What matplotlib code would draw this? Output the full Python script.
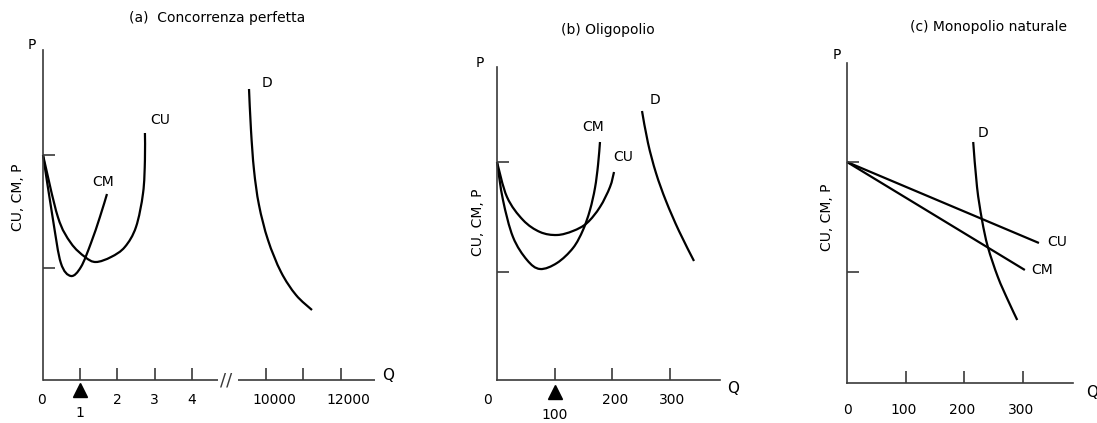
import numpy as np
import matplotlib
matplotlib.use("Agg")
import matplotlib.pyplot as plt
from matplotlib.path import Path
from matplotlib.patches import PathPatch
from matplotlib.transforms import ScaledTranslation

W, H, DPI = 1097, 423, 100

# ---- (a) Concorrenza perfetta ----
a_cm_q = [0, 0.27, 0.48, 0.75, 1.02, 1.29, 1.53, 1.72]
a_cm_p = [22.5, 16.0, 11.7, 10.4, 11.3, 13.7, 16.3, 18.6]
a_cu_q = [0, 0.40, 0.75, 1.13, 1.42, 1.83, 2.20, 2.50, 2.69, 2.74, 2.74]
a_cu_p = [22.5, 16.3, 13.7, 12.3, 11.8, 12.3, 13.3, 15.3, 18.7, 22.0, 24.7]
a_d_q = [9538, 9591, 9672, 9806, 10048, 10398, 10801, 11231]
a_d_p = [29.1, 25.0, 21.0, 17.5, 14.0, 10.8, 8.5, 7.0]
a_xticks = [1, 2, 3, 4, 10000, 11000, 12000]
a_xlabels = ["0", "2", "3", "4", "10000", "12000"]
a_xlabel_pos = [0, 2, 3, 4, 10000, 12000]
a_mark_q, a_mark_label = 1, "1"
a_yticks = [11.2, 22.5]

# ---- (b) Oligopolio ----
b_cm_q = [0, 10.4, 27.8, 52.2, 74.8, 104.3, 132.2, 149.6, 161.7, 170.4, 175.7, 179.1]
b_cm_p = [21.8, 18.0, 14.3, 12.0, 11.1, 11.7, 13.2, 15.0, 17.0, 19.2, 21.5, 23.8]
b_cu_q = [0, 17.4, 45.2, 74.8, 104.3, 132, 156.5, 179.1, 196.5, 203.5]
b_cu_p = [21.8, 18.3, 16.0, 14.8, 14.5, 14.9, 15.7, 17.3, 19.3, 20.8]
b_d_q = [252.2, 262.6, 276.5, 293.9, 316.5, 342.6]
b_d_p = [26.9, 23.7, 20.7, 17.9, 14.9, 11.9]
b_xticks = [100, 200, 300]
b_xlabels = ["0", "200", "300"]
b_xlabel_pos = [0, 200, 300]
b_mark_q, b_mark_label = 100, "100"
b_yticks = [10.8, 21.8]

# ---- (c) Monopolio naturale ----
c_cu_q = [0, 327]
c_cu_p = [22.1, 14.0]
c_cm_q = [0, 303]
c_cm_p = [22.1, 11.3]
c_d_q = [215, 221.5, 230, 240, 257, 274, 290]
c_d_p = [24.1, 19.6, 16.3, 13.6, 10.6, 8.3, 6.3]
c_xticks = [100, 200, 300]
c_xlabels = ["0", "100", "200", "300"]
c_xlabel_pos = [0, 100, 200, 300]
c_yticks = [11.1, 22.1]

plt.rcParams['font.family'] = ['DejaVu Sans']
FS = 10
AX_COLOR = '#3a3a3a'
AX_LW = 1.2
CURVE_LW = 1.6

fig = plt.figure(figsize=(W / DPI, H / DPI), dpi=DPI)


def px_axes(left, top, right, bottom):
    return fig.add_axes([left / W, 1 - bottom / H, (right - left) / W, (bottom - top) / H])


def fig_text(x, y, s, **kw):
    kw.setdefault('ha', 'center')
    kw.setdefault('va', 'center')
    kw.setdefault('fontsize', FS)
    fig.text(x / W, 1 - y / H, s, **kw)


def smooth_path(xs, ys):
    pts = np.column_stack([xs, ys]).astype(float)
    n = len(pts)
    if n < 3:
        return Path(pts)
    verts = [pts[0]]
    codes = [Path.MOVETO]
    for i in range(n - 1):
        p0 = pts[i - 1] if i > 0 else pts[i]
        p1, p2 = pts[i], pts[i + 1]
        p3 = pts[i + 2] if i + 2 < n else pts[i + 1]
        verts += [p1 + (p2 - p0) / 6, p2 - (p3 - p1) / 6, p2]
        codes += [Path.CURVE4] * 3
    return Path(verts, codes)


def curve(ax, xs, ys):
    ax.add_patch(PathPatch(smooth_path(xs, ys), fill=False, edgecolor='black',
                           lw=CURVE_LW, capstyle='butt', clip_on=False))


def style_axes(ax, xlim, ylim, xticks, yticks, hide_bottom=False):
    ax.set_xlim(*xlim)
    ax.set_ylim(*ylim)
    ax.patch.set_visible(False)
    for s in ('top', 'right'):
        ax.spines[s].set_visible(False)
    for s in ('left', 'bottom'):
        ax.spines[s].set_color(AX_COLOR)
        ax.spines[s].set_linewidth(AX_LW)
    if hide_bottom:
        ax.spines['bottom'].set_visible(False)
    ax.set_xticks(xticks)
    ax.set_yticks(yticks)
    ax.set_xticklabels([])
    ax.set_yticklabels([])
    ax.tick_params(direction='in', length=12 * 72 / DPI, width=AX_LW, color=AX_COLOR)


def tick_label(ax, x, s, dx=0, dy=-20):
    ax.annotate(s, xy=(x, 0), xycoords='data', xytext=(dx, dy),
                textcoords='offset pixels', ha='center', va='center',
                fontsize=FS, annotation_clip=False)


def marker(ax, x, dy):
    tr = ax.transData + ScaledTranslation(0, dy / DPI, fig.dpi_scale_trans)
    ax.plot([x], [0], marker='^', ms=14 * 72 / DPI, color='black',
            transform=tr, clip_on=False, linestyle='none')


# ---------------- panel (a) ----------------
def a_axis(q):
    q = np.asarray(q, dtype=float)
    return np.where(q < 100, q, 6 + (q - 10000) / 1000)


axa = px_axes(43, 50, 375, 380)
a_xmax = (375 - 43) / 37.2
style_axes(axa, (0, a_xmax), (0, 33), a_axis(a_xticks), a_yticks, hide_bottom=True)
axa.plot([0, 4.7], [0, 0], color=AX_COLOR, lw=AX_LW, clip_on=False, solid_capstyle='butt')
axa.plot([5.24, a_xmax], [0, 0], color=AX_COLOR, lw=AX_LW, clip_on=False, solid_capstyle='butt')
axa.text((226 - 43) / 37.2, 0, "//", ha='center', va='center', fontsize=13, color=AX_COLOR)

curve(axa, a_axis(a_cm_q), a_cm_p)
curve(axa, a_axis(a_cu_q), a_cu_p)
curve(axa, a_axis(a_d_q), a_d_p)

for pos, lab in zip(a_xlabel_pos, a_xlabels):
    dx = 8 if pos >= 100 else (-2 if pos == 0 else 0)
    tick_label(axa, float(a_axis(pos)), lab, dx=dx, dy=-20)
marker(axa, a_mark_q, -10)
tick_label(axa, a_mark_q, a_mark_label, dy=-33)

fig_text(217, 18, "(a)  Concorrenza perfetta")
fig_text(32, 45, "P")
fig_text(388, 375, "Q", fontsize=FS + 1)
fig_text(18, 197, "CU, CM, P", rotation=90)
fig_text(160, 120, "CU")
fig_text(103, 182, "CM")
fig_text(267, 83, "D")

# ---------------- panel (b) ----------------
axb = px_axes(497, 67, 720, 380)
style_axes(axb, (0, (720 - 497) / 0.575), (0, 31.3), b_xticks, b_yticks)
curve(axb, b_cm_q, b_cm_p)
curve(axb, b_cu_q, b_cu_p)
curve(axb, b_d_q, b_d_p)
for pos, lab in zip(b_xlabel_pos, b_xlabels):
    dx = -9 if pos == 0 else 3
    tick_label(axb, pos, lab, dx=dx, dy=-20)
marker(axb, b_mark_q, -12)
tick_label(axb, b_mark_q, b_mark_label, dy=-35)

fig_text(608, 30, "(b) Oligopolio")
fig_text(480, 63, "P")
fig_text(733, 388, "Q", fontsize=FS + 1)
fig_text(478, 222, "CU, CM, P", rotation=90)
fig_text(593, 127, "CM")
fig_text(623, 157, "CU")
fig_text(655, 100, "D")

# ---------------- panel (c) ----------------
axc = px_axes(847, 63, 1073, 383)
style_axes(axc, (0, (1073 - 847) / 0.587), (0, 32), c_xticks, c_yticks)
curve(axc, c_cu_q, c_cu_p)
curve(axc, c_cm_q, c_cm_p)
curve(axc, c_d_q, c_d_p)
for pos, lab in zip(c_xlabel_pos, c_xlabels):
    tick_label(axc, pos, lab, dx=-2 if pos else 0, dy=-27)

fig_text(988, 27, "(c) Monopolio naturale")
fig_text(837, 55, "P")
fig_text(1092, 392, "Q", fontsize=FS + 1)
fig_text(827, 217, "CU, CM, P", rotation=90)
fig_text(1057, 242, "CU")
fig_text(1042, 270, "CM")
fig_text(983, 133, "D")

fig.savefig("out.png", dpi=DPI, facecolor='white')
